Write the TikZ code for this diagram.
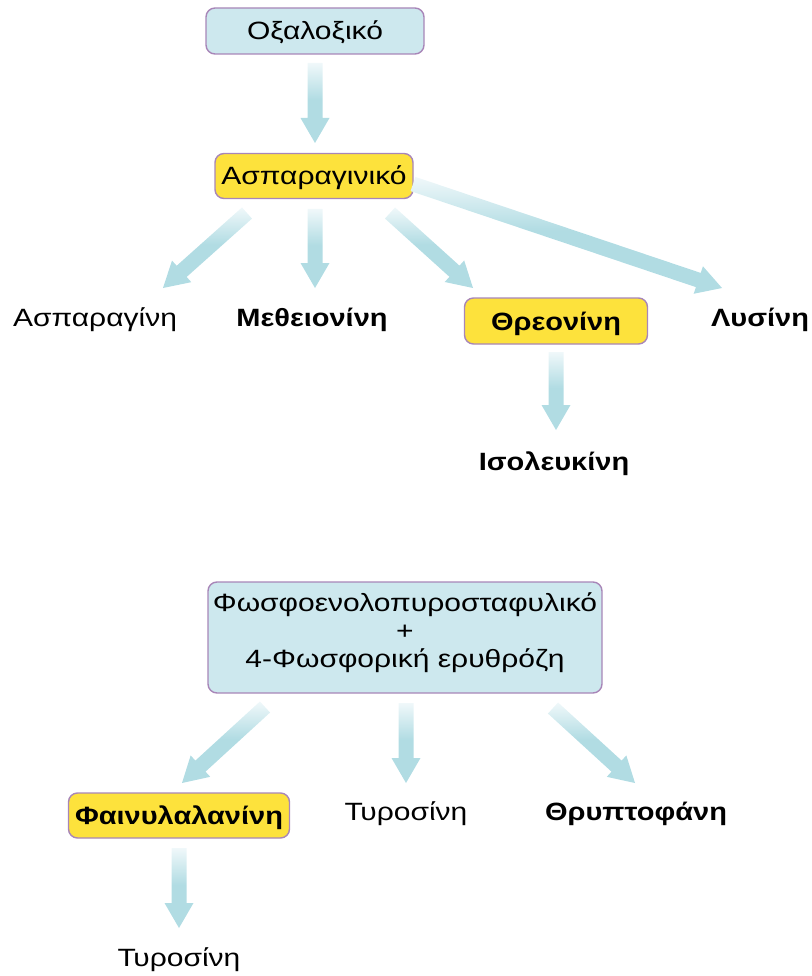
\documentclass[tikz,border=0pt]{standalone}
\usepackage{fontspec}
\setmainfont{Liberation Sans}[FakeStretch=1.2, BoldFeatures={FakeStretch=1.16}]
\usetikzlibrary{calc}

\definecolor{boxblue}{HTML}{CDE8EE}
\definecolor{boxyellow}{HTML}{FDE23C}
\definecolor{boxedge}{HTML}{A886B8}
\definecolor{fad}{HTML}{B1DCE3}
\definecolor{fal}{HTML}{F0F8FA}

% pale at the top, full tint over the lower half
\pgfdeclareverticalshading{arrowfade}{100bp}{color(0bp)=(fad); color(25bp)=(fad); color(52bp)=(fad); color(75bp)=(fal); color(100bp)=(fal)}

% broad pathway arrow: shaft half-width 7.5, head half-width 14.5, head length 25
\newcommand\flowarrow[2]{%
  \path[shading=arrowfade]
    ($(#1)!7.5pt!90:(#2)$)
    -- ($(#2)!25pt!(#1)!7.5pt!90:(#2)$)
    -- ($(#2)!25pt!(#1)!14.5pt!90:(#2)$)
    -- (#2)
    -- ($(#2)!25pt!(#1)!14.5pt!-90:(#2)$)
    -- ($(#2)!25pt!(#1)!7.5pt!-90:(#2)$)
    -- ($(#1)!7.5pt!-90:(#2)$) -- cycle;}

\begin{document}
\begin{tikzpicture}[x=1pt,y=-1pt,
  txt/.style={font=\fontsize{25}{28}\selectfont, inner sep=0pt},
  bold/.style={txt, font=\fontsize{25}{28}\selectfont\bfseries},
  box/.style={rounded corners=9pt, draw=boxedge, line width=1.4pt, inner sep=0pt,
    text height=18pt, text depth=0pt},
  bluebox/.style={box, fill=boxblue},
  yellowbox/.style={box, fill=boxyellow},
]
\useasboundingbox (0,0) rectangle (811,976);

% --- oxaloacetate branch
\node[bluebox, txt, minimum width=218, minimum height=46] (oxa) at (315,31) {Οξαλοξικό};
\node[yellowbox, txt, minimum width=198, minimum height=45] (asp) at (314,176) {Ασπαραγινικό};
\node[txt, anchor=base] (asn) at (95,326) {Ασπαραγίνη};
\node[bold, anchor=base] (met) at (312,326) {Μεθειονίνη};
\node[yellowbox, bold, minimum width=183, minimum height=46] (thr) at (556,321) {Θρεονίνη};
\node[bold, anchor=base] (lys) at (760,326) {Λυσίνη};
\node[bold, anchor=base] (ile) at (554,470) {Ισολευκίνη};

% --- PEP + erythrose-4-phosphate branch
\node[bluebox, minimum width=394, minimum height=111] (pep) at (405,637.5) {};
\node[txt, align=center, anchor=north] (peptxt) at (pep.north) [yshift=-11pt]
  {Φωσφοενολοπυροσταφυλικό\\+\\4-Φωσφορική ερυθρόζη};
\node[yellowbox, bold, minimum width=221, minimum height=45] (phe) at (179,815.5) {Φαινυλαλανίνη};
\node[txt, anchor=base] (tyr) at (406,820) {Τυροσίνη};
\node[bold, anchor=base] (trp) at (636,820) {Θρυπτοφάνη};
\node[txt, anchor=base] (tyr2) at (179,966) {Τυροσίνη};

% arrow ends
\coordinate (a1s) at (315,63);  \coordinate (a1e) at (315,143);
\coordinate (a2s) at (247,213); \coordinate (a2e) at (163,288);
\coordinate (a3s) at (315,209); \coordinate (a3e) at (315,288);
\coordinate (a4s) at (390,213); \coordinate (a4e) at (473,288);
\coordinate (a5s) at (413,184); \coordinate (a5e) at (722,288);
\coordinate (a6s) at (556,352); \coordinate (a6e) at (556,430);
\coordinate (a7s) at (265,707); \coordinate (a7e) at (182,783);
\coordinate (a8s) at (406,703); \coordinate (a8e) at (406,783);
\coordinate (a9s) at (553,708); \coordinate (a9e) at (635,783);
\coordinate (a10s) at (179,848); \coordinate (a10e) at (179,928);

\flowarrow{a1s}{a1e}
\flowarrow{a2s}{a2e}
\flowarrow{a3s}{a3e}
\flowarrow{a4s}{a4e}
\flowarrow{a5s}{a5e}
\flowarrow{a6s}{a6e}
\flowarrow{a7s}{a7e}
\flowarrow{a8s}{a8e}
\flowarrow{a9s}{a9e}
\flowarrow{a10s}{a10e}
\end{tikzpicture}
\end{document}
